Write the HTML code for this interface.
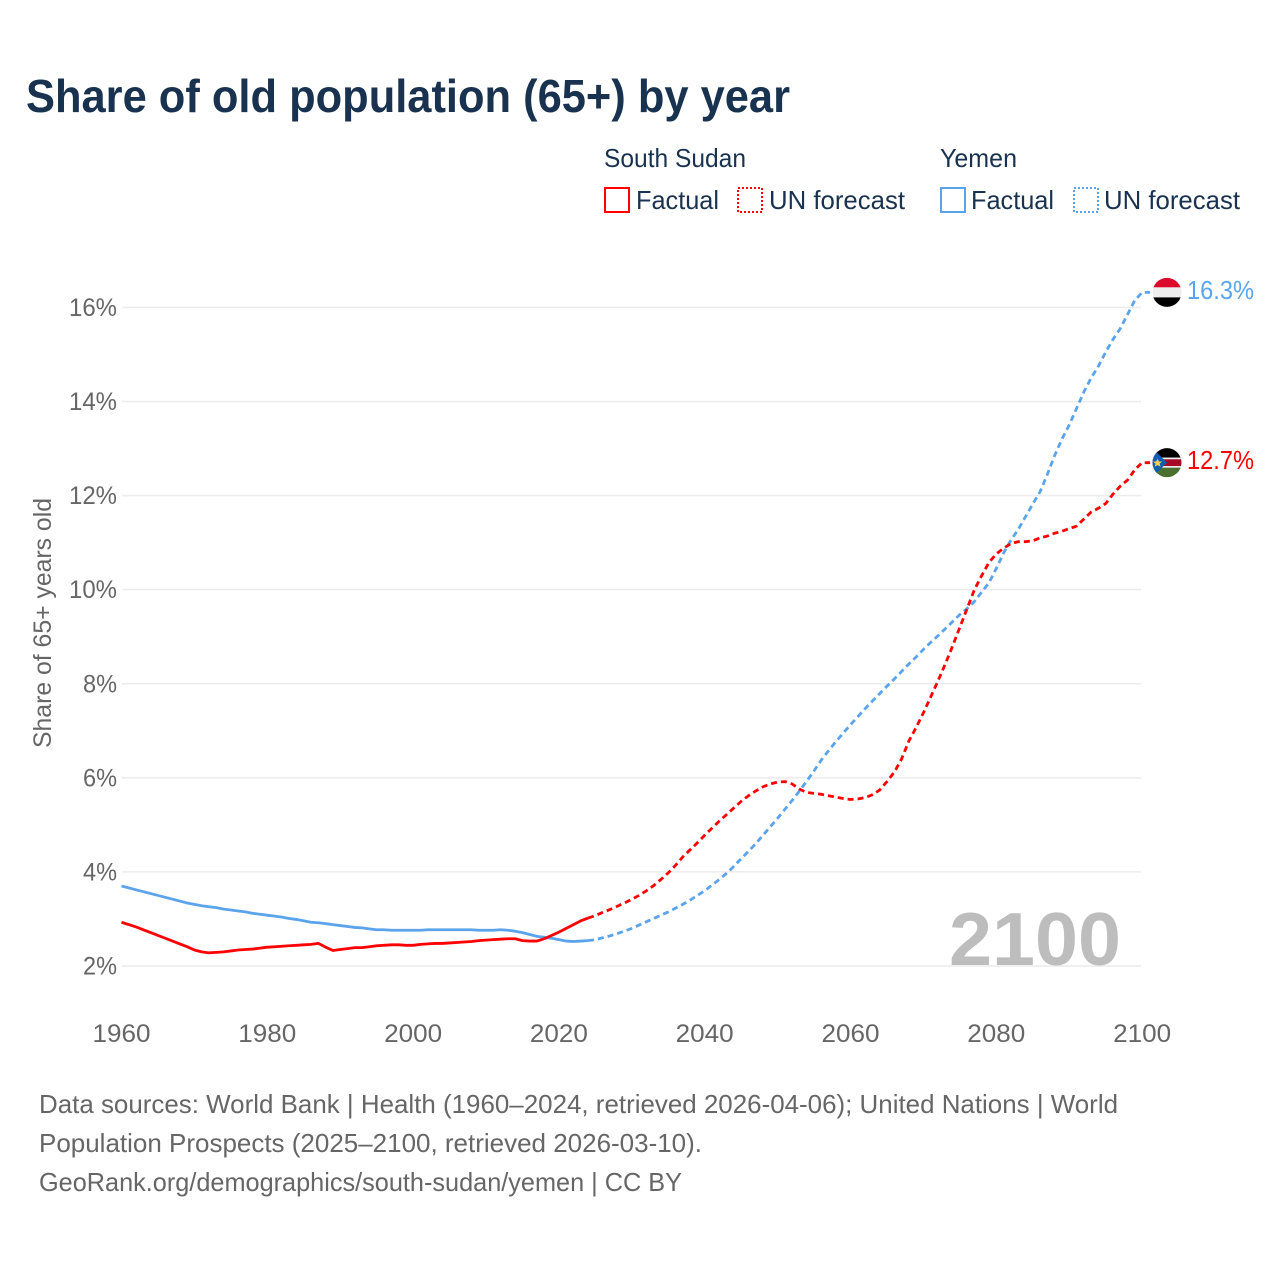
<!DOCTYPE html>
<html lang="en">
<head>
<meta charset="utf-8">
<title>Share of old population (65+) by year</title>
<style>
html,body{margin:0;padding:0;background:#fff;}
svg{display:block;font-family:"Liberation Sans",sans-serif;}
</style>
</head>
<body>
<svg id="chart" width="1280" height="1280" viewBox="0 0 1280 1280" xmlns="http://www.w3.org/2000/svg">
<defs>
<clipPath id="flag-clip-ye"><circle cx="0" cy="0" r="14.5"/></clipPath>
<clipPath id="flag-clip-ss"><circle cx="0" cy="0" r="14.5"/></clipPath>
</defs>
<rect x="0" y="0" width="1280" height="1280" fill="#fff"/>
<text x="26" y="112" font-size="46" font-weight="700" fill="#18324f" textLength="764" lengthAdjust="spacingAndGlyphs">Share of old population (65+) by year</text>

<g font-size="26" fill="#18324f">
<text x="604" y="167" textLength="142" lengthAdjust="spacingAndGlyphs">South Sudan</text>
<text x="940" y="167" textLength="77" lengthAdjust="spacingAndGlyphs">Yemen</text>
<rect x="605" y="188" width="24" height="24" fill="none" stroke="#ff0000" stroke-width="2"/>
<text x="636" y="209" textLength="83" lengthAdjust="spacingAndGlyphs">Factual</text>
<rect x="738" y="188" width="24" height="24" fill="none" stroke="#ff0000" stroke-width="2" stroke-dasharray="2 2"/>
<text x="769" y="209" textLength="136" lengthAdjust="spacingAndGlyphs">UN forecast</text>
<rect x="941" y="188" width="24" height="24" fill="none" stroke="#5ba4ec" stroke-width="2"/>
<text x="971" y="209" textLength="83" lengthAdjust="spacingAndGlyphs">Factual</text>
<rect x="1074" y="188" width="24" height="24" fill="none" stroke="#5ba4ec" stroke-width="2" stroke-dasharray="2 2"/>
<text x="1104" y="209" textLength="136" lengthAdjust="spacingAndGlyphs">UN forecast</text>
</g>

<text transform="translate(51,623) rotate(-90)" text-anchor="middle" font-size="25" fill="#666" textLength="250" lengthAdjust="spacingAndGlyphs">Share of 65+ years old</text>
<g id="grid"></g>
<g id="yticks"></g>
<g id="xticks"></g>
<text x="949" y="965" font-size="75" font-weight="700" fill="#bdbdbd" textLength="172" lengthAdjust="spacingAndGlyphs">2100</text>
<g id="series"></g>

<g id="flag-ye" clip-path="url(#flag-clip-ye)">
<rect x="-15" y="-15" width="30" height="10" fill="#dc0a2c"/>
<rect x="-15" y="-5" width="30" height="10" fill="#eeeeee"/>
<rect x="-15" y="5" width="30" height="10" fill="#000"/>
</g>
<g id="flag-ss" clip-path="url(#flag-clip-ss)">
<rect x="-15" y="-15" width="30" height="10" fill="#000"/>
<rect x="-15" y="-5" width="30" height="1.8" fill="#eee"/>
<rect x="-15" y="-3.4" width="30" height="7" fill="#a50a26"/>
<rect x="-15" y="3.4" width="30" height="1.8" fill="#eee"/>
<rect x="-15" y="5" width="30" height="10" fill="#4a6f2e"/>
<polygon points="-15,-15 0,0 -15,15" fill="#0f5fb0"/>
<polygon points="-9.5,-4 -8.2,-1.2 -5,-1 -7.4,1 -6.5,4 -9.5,2.4 -12.3,4 -11.5,1 -14,-1 -10.8,-1.2" fill="#f6d24a"/>
</g>
<text id="label-ye" x="1187" font-size="26" fill="#5ba4ec" textLength="67" lengthAdjust="spacingAndGlyphs"></text>
<text id="label-ss" x="1187" font-size="26" fill="#ff0000" textLength="67" lengthAdjust="spacingAndGlyphs"></text>

<g font-size="26" fill="#666">
<text x="39" y="1113" textLength="1079" lengthAdjust="spacingAndGlyphs">Data sources: World Bank | Health (1960–2024, retrieved 2026-04-06); United Nations | World</text>
<text x="39" y="1152" textLength="663" lengthAdjust="spacingAndGlyphs">Population Prospects (2025–2100, retrieved 2026-03-10).</text>
<text x="39" y="1191" textLength="643" lengthAdjust="spacingAndGlyphs">GeoRank.org/demographics/south-sudan/yemen | CC BY</text>
</g>
</svg>
<script>
const yTickValues = [2, 4, 6, 8, 10, 12, 14, 16];
const xTickValues = [1960, 1980, 2000, 2020, 2040, 2060, 2080, 2100];
const factualStartYear = 1960;
const forecastStartYear = 2025;
const southSudanFactual = [
  2.93,2.88,2.83,2.77,2.71,2.65,2.59,2.53,2.47,2.41,
  2.34,2.30,2.28,2.29,2.30,2.32,2.34,2.35,2.36,2.38,
  2.40,2.41,2.42,2.43,2.44,2.45,2.46,2.48,2.40,2.33,
  2.35,2.37,2.39,2.39,2.41,2.43,2.44,2.45,2.45,2.44,
  2.44,2.46,2.47,2.48,2.48,2.49,2.50,2.51,2.52,2.54,
  2.55,2.56,2.57,2.58,2.58,2.54,2.53,2.53,2.58,2.65,
  2.72,2.80,2.88,2.96,3.02];
const southSudanForecast = [
  3.07,3.14,3.20,3.27,3.34,
  3.42,3.50,3.60,3.71,3.84,3.98,4.14,4.32,4.47,4.62,
  4.78,4.93,5.08,5.22,5.36,5.50,5.62,5.72,5.81,5.87,
  5.91,5.92,5.87,5.76,5.69,5.67,5.65,5.62,5.59,5.56,
  5.54,5.55,5.58,5.64,5.74,5.92,6.12,6.40,6.78,7.07,
  7.38,7.72,8.06,8.42,8.80,9.20,9.60,10.00,10.30,10.58,
  10.76,10.88,10.98,11.02,11.02,11.04,11.10,11.14,11.20,11.24,
  11.30,11.35,11.50,11.65,11.73,11.83,12.03,12.20,12.33,12.55,
  12.70];
const yemenFactual = [
  3.70,3.66,3.62,3.58,3.54,3.50,3.46,3.42,3.38,3.34,
  3.31,3.28,3.26,3.24,3.21,3.19,3.17,3.15,3.12,3.10,
  3.08,3.06,3.04,3.01,2.99,2.96,2.93,2.92,2.90,2.88,
  2.86,2.84,2.82,2.81,2.79,2.77,2.77,2.76,2.76,2.76,
  2.76,2.76,2.77,2.77,2.77,2.77,2.77,2.77,2.77,2.76,
  2.76,2.76,2.77,2.76,2.74,2.71,2.67,2.63,2.61,2.59,
  2.56,2.53,2.52,2.53,2.54];
const yemenForecast = [
  2.56,2.60,2.64,2.69,2.74,
  2.80,2.87,2.94,3.01,3.08,3.15,3.23,3.31,3.40,3.50,
  3.60,3.72,3.84,3.97,4.12,4.28,4.44,4.60,4.78,4.96,
  5.14,5.33,5.52,5.72,5.93,6.15,6.38,6.58,6.77,6.95,
  7.13,7.30,7.47,7.63,7.79,7.95,8.10,8.26,8.42,8.57,
  8.73,8.88,9.02,9.17,9.32,9.47,9.60,9.75,9.95,10.15,
  10.45,10.78,11.05,11.28,11.55,11.82,12.08,12.45,12.85,13.20,
  13.50,13.85,14.20,14.50,14.75,15.05,15.32,15.55,15.85,16.15,
  16.32];

const NS = 'http://www.w3.org/2000/svg';
function xScale(year) { return 121.5 + (year - 1960) * 7.29; }
function yScale(pct) { return 966 - (pct - 2) * 47.04; }

function linePath(values, startYear, prefix, suffix) {
  const pts = values.map(function (v, i) {
    return xScale(startYear + i).toFixed(2) + ' ' + yScale(v).toFixed(2);
  });
  return 'M' + (prefix ? prefix + ' L' : '') + pts.join(' L') + (suffix ? ' L' + suffix : '');
}

const gridGroup = document.getElementById('grid');
const yTickGroup = document.getElementById('yticks');
const xTickGroup = document.getElementById('xticks');
const seriesGroup = document.getElementById('series');

yTickValues.forEach(function (v) {
  const line = document.createElementNS(NS, 'line');
  
  
  line.setAttribute('x1', 122);
  line.setAttribute('x2', 1141);
  line.setAttribute('y1', yScale(v));
  line.setAttribute('y2', yScale(v));
  line.setAttribute('stroke', '#ececec');
  line.setAttribute('stroke-width', '1.5');
  gridGroup.appendChild(line);

  const label = document.createElementNS(NS, 'text');
  
  
  label.setAttribute('x', v >= 10 ? 69 : 83);
  label.setAttribute('y', yScale(v) + 8.5);
  label.setAttribute('font-size', '25');
  label.setAttribute('fill', '#666');
  label.setAttribute('textLength', v >= 10 ? 48 : 34);
  label.setAttribute('lengthAdjust', 'spacingAndGlyphs');
  label.textContent = v + '%';
  yTickGroup.appendChild(label);
});

xTickValues.forEach(function (year) {
  const label = document.createElementNS(NS, 'text');
  
  
  label.setAttribute('x', xScale(year) - 29);
  label.setAttribute('y', 1042);
  label.setAttribute('font-size', '25');
  label.setAttribute('fill', '#666');
  label.setAttribute('textLength', 58);
  label.setAttribute('lengthAdjust', 'spacingAndGlyphs');
  label.textContent = year;
  xTickGroup.appendChild(label);
});

function drawLine(d, color, dashed, name) {
  const path = document.createElementNS(NS, 'path');
  
  
  path.setAttribute('d', d);
  path.setAttribute('fill', 'none');
  path.setAttribute('stroke', color);
  path.setAttribute('stroke-width', '2.8');
  path.setAttribute('stroke-linejoin', 'round');
  if (dashed) path.setAttribute('stroke-dasharray', '6 4');
  seriesGroup.appendChild(path);
}

function drawSeries(factual, forecast, color, key) {
  const lastFactualYear = factualStartYear + factual.length - 1;
  const lastFactual = factual[factual.length - 1];
  const lastForecast = forecast[forecast.length - 1];
  const join = xScale(lastFactualYear).toFixed(2) + ' ' + yScale(lastFactual).toFixed(2);
  const end = (xScale(2100) + 8).toFixed(2) + ' ' + yScale(lastForecast).toFixed(2);
  drawLine(linePath(factual, factualStartYear), color, false, key + '-factual-line');
  drawLine(linePath(forecast, forecastStartYear, join, end), color, true, key + '-forecast-line');
}

drawSeries(yemenFactual, yemenForecast, '#5ba4ec', 'yemen');
drawSeries(southSudanFactual, southSudanForecast, '#ff0000', 'south-sudan');

function placeEnd(flagId, labelId, value) {
  const y = yScale(value);
  document.getElementById(flagId).setAttribute('transform', 'translate(1167,' + y.toFixed(2) + ')');
  const label = document.getElementById(labelId);
  label.setAttribute('y', (y + 6.5).toFixed(2));
  label.textContent = value.toFixed(1) + '%';
}
placeEnd('flag-ye', 'label-ye', yemenForecast[yemenForecast.length - 1]);
placeEnd('flag-ss', 'label-ss', southSudanForecast[southSudanForecast.length - 1]);
</script>
</body>
</html>
